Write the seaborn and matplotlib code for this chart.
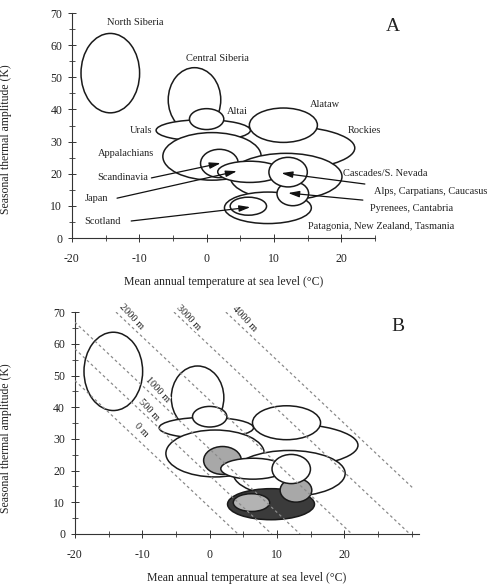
import numpy as np
import pandas as pd
import matplotlib
matplotlib.use("Agg")
import matplotlib.pyplot as plt
import seaborn as sns
from matplotlib.patches import Ellipse
from matplotlib.ticker import MultipleLocator, FixedLocator

# climate envelopes of the mountain regions (centre and extent)
regions = ['North Siberia', 'Central Siberia', 'Rockies', 'Urals', 'Altai', 'Alataw',
           'Appalachians', 'Scandinavia', 'Cascades/S. Nevada', 'Japan',
           'Patagonia, New Zealand, Tasmania', 'Scotland', 'Pyrenees, Cantabria',
           'Alps, Carpatians, Caucasus']
temp_mid = [-14.3, -1.8, 10.5, -0.5, 0.0, 11.4, 0.8, 1.9, 11.8, 6.4, 9.1, 6.2, 12.8, 12.1]
temp_span = [8.7, 7.8, 23.0, 14.0, 5.1, 10.1, 14.6, 5.6, 16.6, 9.5, 12.9, 5.4, 4.7, 5.7]
amp_mid = [51.3, 43.0, 28.0, 33.5, 37.0, 35.1, 25.4, 23.2, 19.1, 20.6, 9.4, 9.9, 13.8, 20.5]
amp_span = [24.7, 20.0, 14.0, 6.6, 6.5, 10.7, 14.8, 8.8, 14.5, 6.6, 9.8, 5.6, 7.5, 9.2]
shade_b = ['white', 'white', 'white', 'white', 'white', 'white', 'white', '#a8a8a8',
           'white', 'white', '#3b3b3b', '#b3b3b3', '#a8a8a8', 'white']

# altitude isolines (panel B): temperature where each line meets zero amplitude
iso_names = ['0 m', '500 m', '1000 m', '2000 m', '3000 m', '4000 m']
iso_t0 = [4.2, 9.2, 13.4, 21.1, 29.7, 37.4]
iso_top = [70, 70, 70, 70, 70, 70]
iso_slope = 2.0

# panel A annotation layout
lab_pos = {
    'North Siberia': (-10.6, 66.9, 'center'),
    'Central Siberia': (1.6, 56.0, 'center'),
    'Altai': (4.5, 39.5, 'center'),
    'Alataw': (17.6, 41.4, 'center'),
    'Rockies': (23.4, 33.3, 'center'),
    'Urals': (-9.8, 33.3, 'center'),
    'Appalachians': (-11.9, 26.4, 'center'),
    'Scandinavia': (-12.5, 18.7, 'center'),
    'Japan': (-16.4, 12.4, 'center'),
    'Scotland': (-15.4, 5.0, 'center'),
    'Cascades/S. Nevada': (20.2, 20.2, 'left'),
    'Alps, Carpatians, Caucasus': (24.8, 14.6, 'left'),
    'Pyrenees, Cantabria': (24.2, 9.3, 'left'),
    'Patagonia, New Zealand, Tasmania': (15.1, 3.7, 'left'),
}
arrows = [((-8.2, 18.7), (2.1, 23.3)),
          ((-13.3, 12.4), (4.5, 20.8)),
          ((-11.2, 5.3), (6.5, 9.6)),
          ((23.5, 16.8), (11.1, 20.2)),
          ((23.2, 11.8), (12.1, 14.0))]
iso_lab = [(-10.2, 32.8), (-9.0, 39.2), (-7.8, 45.6), (-11.6, 68.7), (-3.1, 68.3), (5.2, 68.0)]

sns.set_theme(style="white")
plt.rcParams['font.family'] = ['Liberation Serif', 'DejaVu Serif']
plt.rcParams['axes.linewidth'] = 0.8

fig = plt.figure(figsize=(4.96, 5.87), dpi=100)
axA = fig.add_axes([0.145, 0.5945, 0.611, 0.3833])
axB = fig.add_axes([0.151, 0.0903, 0.693, 0.378])


def draw_regions(ax, fills):
    for i in range(len(regions)):
        ax.add_patch(Ellipse((temp_mid[i], amp_mid[i]), temp_span[i], amp_span[i],
                             facecolor=fills[i], edgecolor='#1a1a1a', lw=1.1,
                             zorder=2 + i * 0.01))


def style_axes(ax, xmax, label_x, label_y, letter_xy, letter):
    ax.set_xlim(-20, xmax)
    ax.set_ylim(0, 70)
    sns.despine(ax=ax)
    for s in ['left', 'bottom']:
        ax.spines[s].set_color('#333333')
    ax.xaxis.set_major_locator(FixedLocator([-20, -10, 0, 10, 20]))
    ax.set_xticklabels(['-20', '-10', '0', '10', '20'])
    ax.xaxis.set_minor_locator(MultipleLocator(5))
    ax.yaxis.set_major_locator(MultipleLocator(10))
    ax.yaxis.set_minor_locator(MultipleLocator(5))
    ax.tick_params(which='major', direction='inout', length=6, width=0.7,
                   color='#333333', labelsize=8.5, labelcolor='#222222')
    ax.tick_params(which='minor', direction='inout', length=4, width=0.6, color='#333333')
    ax.tick_params(axis='x', which='both', bottom=True, pad=8)
    ax.tick_params(axis='y', which='both', left=True, pad=4)
    ax.set_xlabel('Mean annual temperature at sea level (°C)', fontsize=8.5, labelpad=8,
                  color='#222222')
    ax.set_ylabel('Seasonal thermal amplitude (K)', fontsize=8.5, color='#222222')
    ax.yaxis.set_label_coords(label_x, label_y)
    ax.grid(False)
    ax.text(letter_xy[0], letter_xy[1], letter, transform=ax.transAxes, fontsize=14,
            ha='center', va='center', color='#222222')


# ---- panel A ----
draw_regions(axA, ['white'] * len(regions))
for name, (x, y, ha) in lab_pos.items():
    axA.text(x, y, name, fontsize=7.5, ha=ha, va='center', color='#222222', zorder=6)
for (x0, y0), (x1, y1) in arrows:
    axA.annotate('', xy=(x1, y1), xytext=(x0, y0), zorder=5,
                 arrowprops=dict(arrowstyle='-|>,head_length=0.95,head_width=0.27',
                                 color='#111111', lw=0.9,
                                 mutation_scale=7, shrinkA=0, shrinkB=0))
style_axes(axA, 25, -0.198, 0.44, (1.06, 0.938), 'A')

# ---- panel B ----
draw_regions(axB, shade_b)
rows = []
for name, t0, top in zip(iso_names, iso_t0, iso_top):
    x_start = max(-20, t0 - top / iso_slope)
    x_end = min(t0, 30.3)
    for xv in (x_start, x_end):
        rows.append({'iso': name, 't': xv, 'amp': iso_slope * (t0 - xv)})
iso_df = pd.DataFrame(rows)
for name, grp in iso_df.groupby('iso', sort=False):
    sns.lineplot(data=grp, x='t', y='amp', ax=axB, color='#8a8a8a', lw=0.9,
                 linestyle=(0, (2.2, 2.2)), zorder=4, legend=False)
for name, (x, y) in zip(iso_names, iso_lab):
    axB.text(x, y, name, fontsize=7.5, rotation=-47, ha='center', va='center',
             rotation_mode='anchor', color='#222222', zorder=7,
             bbox=dict(facecolor='white', edgecolor='none', pad=0.3))
style_axes(axB, 31, -0.183, 0.432, (0.939, 0.937), 'B')

fig.savefig('out.png', dpi=100)
